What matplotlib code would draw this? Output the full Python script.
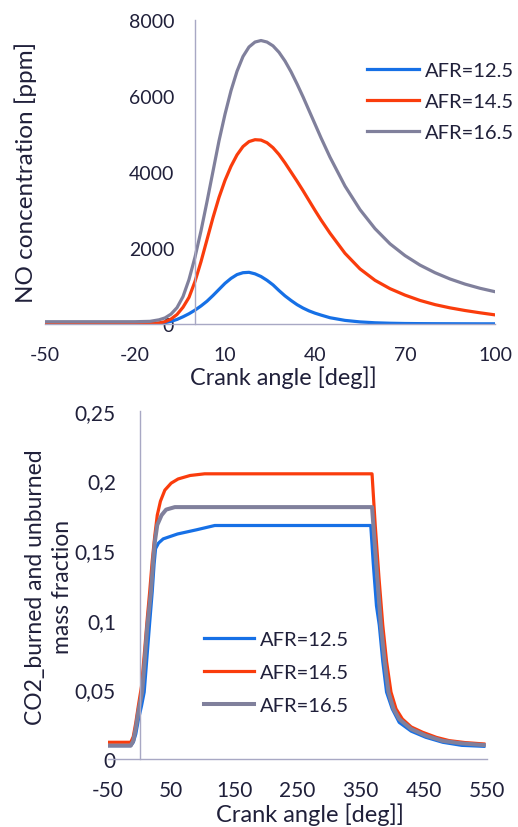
import matplotlib
matplotlib.use("Agg")
import matplotlib.pyplot as plt

plt.rcParams['font.family'] = ['Lato', 'DejaVu Sans']
plt.rcParams['axes.unicode_minus'] = False

# ---------------- Data: NO concentration (top) ----------------
no_angle = [-50, -20, -15, -12, -10, -8, -6, -4, -2, 0, 2, 4, 6, 8, 10, 12, 14, 16, 18, 20,
            22, 24, 26, 28, 30, 32, 34, 36, 38, 40, 42, 45, 50, 55, 60, 65, 70, 75, 80, 85, 90, 95, 100]
no_afr125 = [0, 0, 0, 15, 35, 70, 120, 190, 270, 365, 475, 600, 750, 910, 1070, 1200, 1300, 1350, 1360, 1320,
             1250, 1150, 1030, 880, 740, 620, 510, 420, 345, 285, 235, 165, 95, 55, 32, 20, 13, 10, 8, 7, 6, 5, 5]
no_afr145 = [0, 0, 5, 30, 60, 130, 250, 440, 700, 1120, 1640, 2220, 2800, 3330, 3780, 4150, 4450, 4670, 4800, 4850,
             4840, 4770, 4640, 4460, 4240, 4000, 3760, 3510, 3250, 2990, 2740, 2390, 1860, 1450, 1150, 930, 760,
             620, 510, 425, 355, 295, 240]
no_afr165 = [60, 60, 70, 110, 160, 260, 430, 720, 1170, 1760, 2450, 3220, 4020, 4820, 5520, 6140, 6650, 7040, 7290, 7420,
             7460, 7420, 7320, 7150, 6920, 6640, 6320, 5980, 5620, 5260, 4900, 4390, 3630, 3010, 2510, 2110, 1800,
             1550, 1350, 1185, 1050, 940, 850]
no_xticks = [-50, -20, 10, 40, 70, 100]
no_yticks = [0, 2000, 4000, 6000, 8000]

# ---------------- Data: CO2 mass fraction (bottom) ----------------
co2_angle_125 = [-50, -14, -10, -6, -2, 3, 7.3, 12, 16, 20, 23, 25.3, 30, 37.4, 60, 90, 119, 366,
                 370, 375, 379.5, 385, 391, 400, 411, 430, 453, 480, 510, 545]
co2_afr125 = [0.0096, 0.0096, 0.012, 0.018, 0.028, 0.038, 0.048, 0.075, 0.098, 0.12, 0.14, 0.151, 0.155, 0.158,
              0.1615, 0.1645, 0.1676, 0.1676, 0.14, 0.11, 0.096, 0.07, 0.048, 0.036, 0.0263, 0.02, 0.0156,
              0.012, 0.0098, 0.0091]
co2_angle_145 = [-50, -14, -10, -6, -2, 3, 8, 12, 16, 20, 24, 28, 33, 40, 50, 61, 80, 103, 368,
                 373, 379, 385, 391, 398, 406, 416, 430, 448, 470, 490, 515, 545]
co2_afr145 = [0.012, 0.012, 0.016, 0.026, 0.038, 0.052, 0.078, 0.1, 0.12, 0.142, 0.16, 0.175, 0.185, 0.193,
              0.198, 0.201, 0.2035, 0.2047, 0.2047, 0.168, 0.13, 0.096, 0.07, 0.048, 0.036, 0.0287, 0.023,
              0.0192, 0.0155, 0.0132, 0.0118, 0.0108]
co2_angle_165 = [-50, -14, -10, -6, -2, 4, 8, 12, 18, 22, 24.2, 28, 34.8, 42, 55.8, 368,
                 373, 378, 382, 388, 394, 402, 411, 430, 453, 480, 510, 545]
co2_afr165 = [0.0096, 0.0096, 0.013, 0.022, 0.034, 0.048, 0.07, 0.094, 0.12, 0.145, 0.156, 0.168, 0.175, 0.179,
              0.1808, 0.1808, 0.15, 0.12, 0.096, 0.07, 0.048, 0.036, 0.0287, 0.0215, 0.0168, 0.013, 0.0112, 0.01]
co2_xticks = [-50, 50, 150, 250, 350, 450, 550]
co2_yticks = [0, 0.05, 0.1, 0.15, 0.2, 0.25]
co2_yticklabels = ["0", "0,05", "0,1", "0,15", "0,2", "0,25"]

labels = ["AFR=12.5", "AFR=14.5", "AFR=16.5"]
colors = ["#1670e6", "#fa3c0c", "#80809c"]
txt = "#20203a"
spine_c = "#a8a8c4"
lw = 2.3

W, H = 518, 828
fig = plt.figure(figsize=(W / 100, H / 100), dpi=100)


def style(ax, fs, ypad, xpad):
    for s in ("top", "right"):
        ax.spines[s].set_visible(False)
    ax.spines["left"].set_position(("data", 0))
    for s in ("left", "bottom"):
        ax.spines[s].set_color(spine_c)
        ax.spines[s].set_linewidth(1.0)
    ax.tick_params(axis="both", length=0, labelsize=fs, labelcolor=txt)
    ax.tick_params(axis="y", pad=ypad)
    ax.tick_params(axis="x", pad=xpad)


# ---- Top ----
ax1 = fig.add_axes([45 / W, 1 - 325 / H, 450 / W, 304 / H])
ax1.plot(no_angle, no_afr125, color=colors[0], lw=lw, label=labels[0])
ax1.plot(no_angle, no_afr145, color=colors[1], lw=lw, label=labels[1])
ax1.plot(no_angle, no_afr165, color=colors[2], lw=lw, label=labels[2])
ax1.set_xlim(-50, 100)
ax1.set_ylim(0, 8000)
ax1.set_xticks(no_xticks)
ax1.set_yticks(no_yticks)
style(ax1, 14, 15, 16)
fig.text(283 / W, 1 - 378 / H, "Crank angle [deg]]", ha="center", va="center", fontsize=16.8, color=txt)
fig.text(26 / W, 1 - 172 / H, "NO concentration [ppm]", ha="center", va="center", rotation=90,
         fontsize=17.5, color=txt)
ax1.legend(loc="upper left", bbox_to_anchor=(367 / W, 1 - 63 / H), bbox_transform=fig.transFigure,
           frameon=False, fontsize=14.5, handlelength=2.6, handletextpad=0.28, labelspacing=0.68,
           borderpad=0, borderaxespad=0, labelcolor=txt)

# ---- Bottom ----
ax2 = fig.add_axes([108 / W, 1 - 760 / H, 379 / W, 348.3 / H])
ax2.plot(co2_angle_125, co2_afr125, color=colors[0], lw=lw, label=labels[0])
ax2.plot(co2_angle_145, co2_afr145, color=colors[1], lw=lw, label=labels[1])
ax2.plot(co2_angle_165, co2_afr165, color=colors[2], lw=lw + 0.6, label=labels[2])
ax2.set_xlim(-50, 550)
ax2.set_ylim(0, 0.25)
ax2.set_xticks(co2_xticks)
ax2.set_yticks(co2_yticks)
ax2.set_yticklabels(co2_yticklabels)
style(ax2, 15, 17, 15)
fig.text(310 / W, 1 - 815 / H, "Crank angle [deg]]", ha="center", va="center", fontsize=17, color=txt)
fig.text(49 / W, 1 - 587 / H, "CO2_burned and unburned\nmass fraction", ha="center", va="center",
         rotation=90, fontsize=16.5, color=txt, linespacing=1.4)
ax2.legend(loc="upper left", bbox_to_anchor=(204 / W, 1 - 632 / H), bbox_transform=fig.transFigure,
           frameon=False, fontsize=14.5, handlelength=2.5, handletextpad=0.28, labelspacing=0.78,
           borderpad=0, borderaxespad=0, labelcolor=txt)

fig.savefig("out.png", dpi=100)
